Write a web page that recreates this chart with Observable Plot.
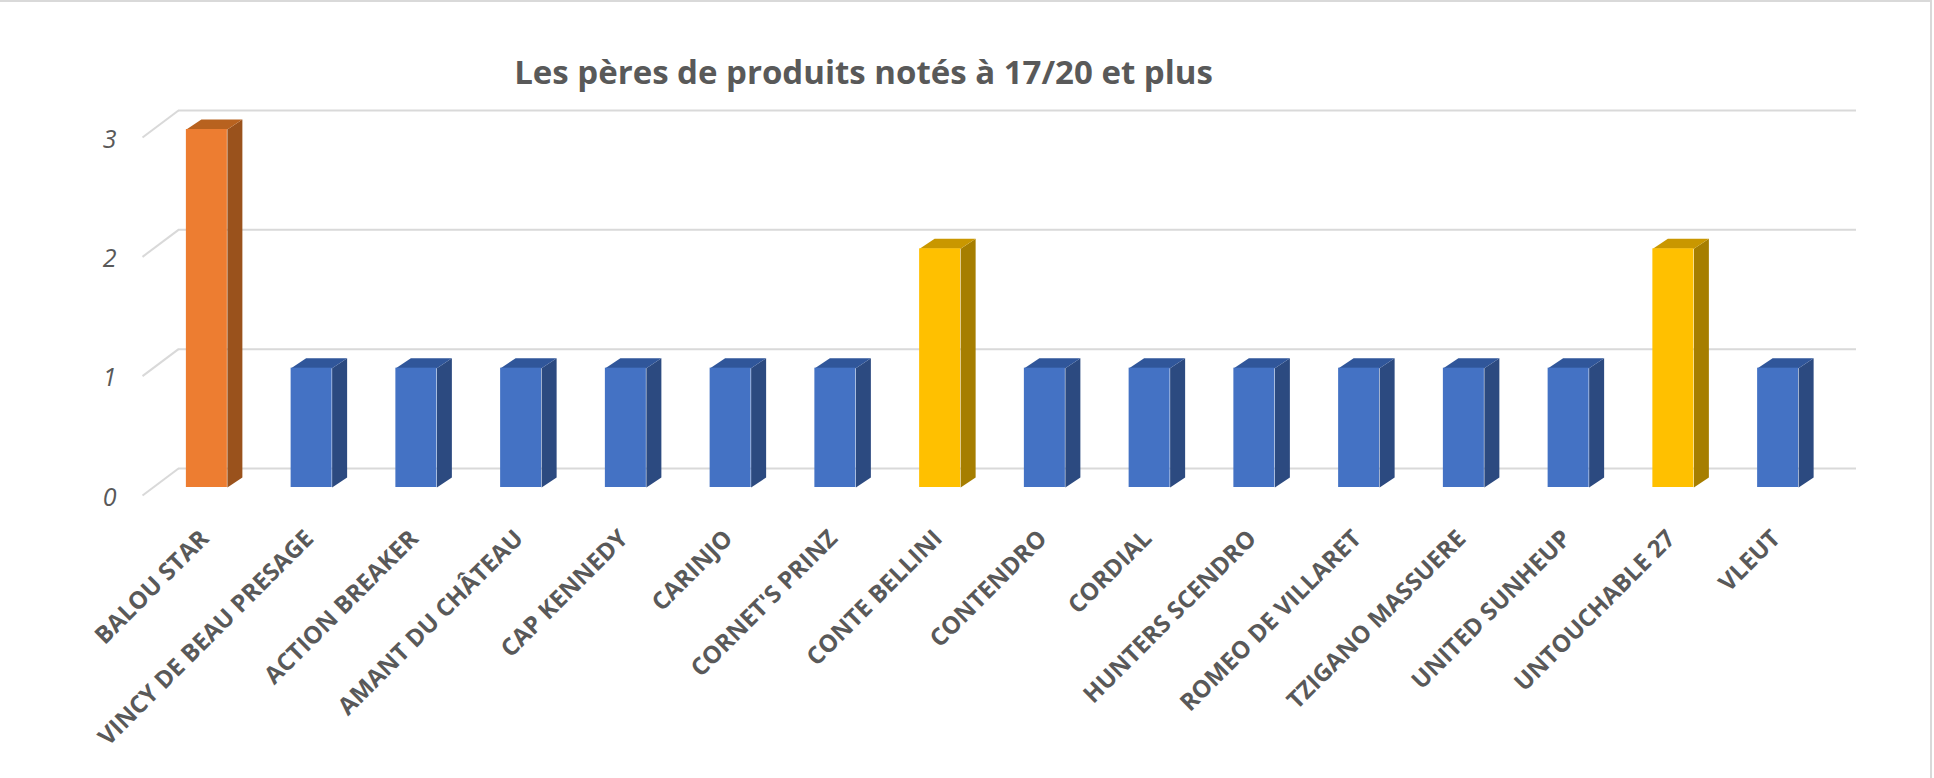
<!DOCTYPE html>
<html>
<head>
<meta charset="utf-8">
<script src="https://cdn.jsdelivr.net/npm/d3@7"></script>
<script src="https://cdn.jsdelivr.net/npm/@observablehq/plot@0.6"></script>
<style>
  html, body { margin: 0; padding: 0; background: #fff; }
  #wrap { position: relative; width: 1934px; height: 778px; overflow: hidden; }
  #wrap .bt { position: absolute; left: 0; top: 0; width: 1932px; height: 2px; background: #d9d9d9; }
  #wrap .br { position: absolute; left: 1930px; top: 0; width: 2px; height: 778px; background: #d9d9d9; }
</style>
</head>
<body>
<div id="wrap"><div class="bt"></div><div class="br"></div></div>
<script>
// ---- data ----
const titleText = "Les pères de produits notés à 17/20 et plus";
const categories = [
  "BALOU STAR", "VINCY DE BEAU PRESAGE", "ACTION BREAKER", "AMANT DU CHÂTEAU",
  "CAP KENNEDY", "CARINJO", "CORNET'S PRINZ", "CONTE BELLINI", "CONTENDRO",
  "CORDIAL", "HUNTERS SCENDRO", "ROMEO DE VILLARET", "TZIGANO MASSUERE",
  "UNITED SUNHEUP", "UNTOUCHABLE 27", "VLEUT"
];
const values = [3, 1, 1, 1, 1, 1, 1, 2, 1, 1, 1, 1, 1, 1, 2, 1];
const tones = ["orange", "blue", "blue", "blue", "blue", "blue", "blue", "yellow",
               "blue", "blue", "blue", "blue", "blue", "blue", "yellow", "blue"];
const yTicks = [0, 1, 2, 3];

// ---- styling ----
const palette = {
  orange: {front: "#ED7D31", side: "#9A521C", top: "#B8621F"},
  blue:   {front: "#4472C4", side: "#2C4A80", top: "#30569A"},
  yellow: {front: "#FFC000", side: "#A67E00", top: "#C99700"}
};
const W = 1934, H = 778;
const mL = 154, mR = 104, mT = 129, mB = 291;
const stepPx = (W - mL - mR) / categories.length;   // px per category
const unitPx = (H - mT - mB) / 3;                   // px per unit
const px2x = p => p / stepPx;
const px2y = p => p / unitPx;
const half = px2x(20.5);     // half front width
const depX = px2x(15), depY = px2y(10);   // bar depth
const wallY = px2y(19);                   // back wall offset
const gx1 = -0.5 + px2x(178 - mL), gx2 = -0.5 + px2x(1856 - mL);
const sx = -0.5 + px2x(142 - mL);
const lx = -0.5 + px2x(116 - mL);
const textCol = "#595959";

const bars = categories.map((c, i) => ({i, name: c, value: values[i], tone: tones[i]}));

// side and top faces as polygons derived from the data values
const polys = [];
bars.forEach(b => {
  const xl = b.i - half, xr = b.i + half, v = b.value;
  const side = palette[b.tone].side, top = palette[b.tone].top;
  [[xr, 0], [xr, v], [xr + depX, v + depY], [xr + depX, depY]]
    .forEach(([x, y]) => polys.push({id: "s" + b.i, x, y, fill: side}));
  [[xl, v], [xr, v], [xr + depX, v + depY], [xl + depX, v + depY]]
    .forEach(([x, y]) => polys.push({id: "t" + b.i, x, y, fill: top}));
});

const chart = Plot.plot({
  width: W, height: H,
  marginLeft: mL, marginRight: mR, marginTop: mT, marginBottom: mB,
  x: {type: "linear", domain: [-0.5, categories.length - 0.5], axis: null},
  y: {type: "linear", domain: [0, 3], axis: null},
  color: {type: "identity"},
  style: {fontFamily: "'Open Sans', sans-serif", background: "transparent"},
  marks: [
    // back-wall gridlines
    Plot.ruleY(yTicks, {y: d => d, x1: gx1, x2: gx2, dy: -19, stroke: "#d9d9d9", strokeWidth: 2}),
    // side-wall stubs
    Plot.link(yTicks, {x1: gx1, y1: d => d + wallY, x2: sx, y2: d => d - px2y(8), stroke: "#d9d9d9", strokeWidth: 2}),
    // 3D faces
    Plot.line(polys, {x: "x", y: "y", z: "id", fill: "fill", stroke: "none", curve: "linear"}),
    // front faces
    Plot.rectY(bars, {x1: d => d.i - half, x2: d => d.i + half, y1: 0, y2: "value",
      fill: d => palette[d.tone].front}),
    // y tick labels
    Plot.text(yTicks, {x: lx, y: d => d, dy: 10, text: d => String(d), textAnchor: "end",
      fontSize: 25, fontStyle: "italic", fill: textCol}),
    // category labels
    Plot.text(bars, {x: "i", y: 0, dy: 47, dx: -2, text: "name", rotate: -45, textAnchor: "end",
      fontSize: 24, fontWeight: "bold", fill: textCol}),
    // title
    Plot.text([titleText], {frameAnchor: "top", dx: 863 - (mL + (W - mL - mR) / 2), dy: 83 - mT,
      lineAnchor: "bottom", text: d => d, fontSize: 33, fontWeight: "bold", fill: textCol})
  ]
});
document.getElementById("wrap").appendChild(chart);
</script>
</body>
</html>
